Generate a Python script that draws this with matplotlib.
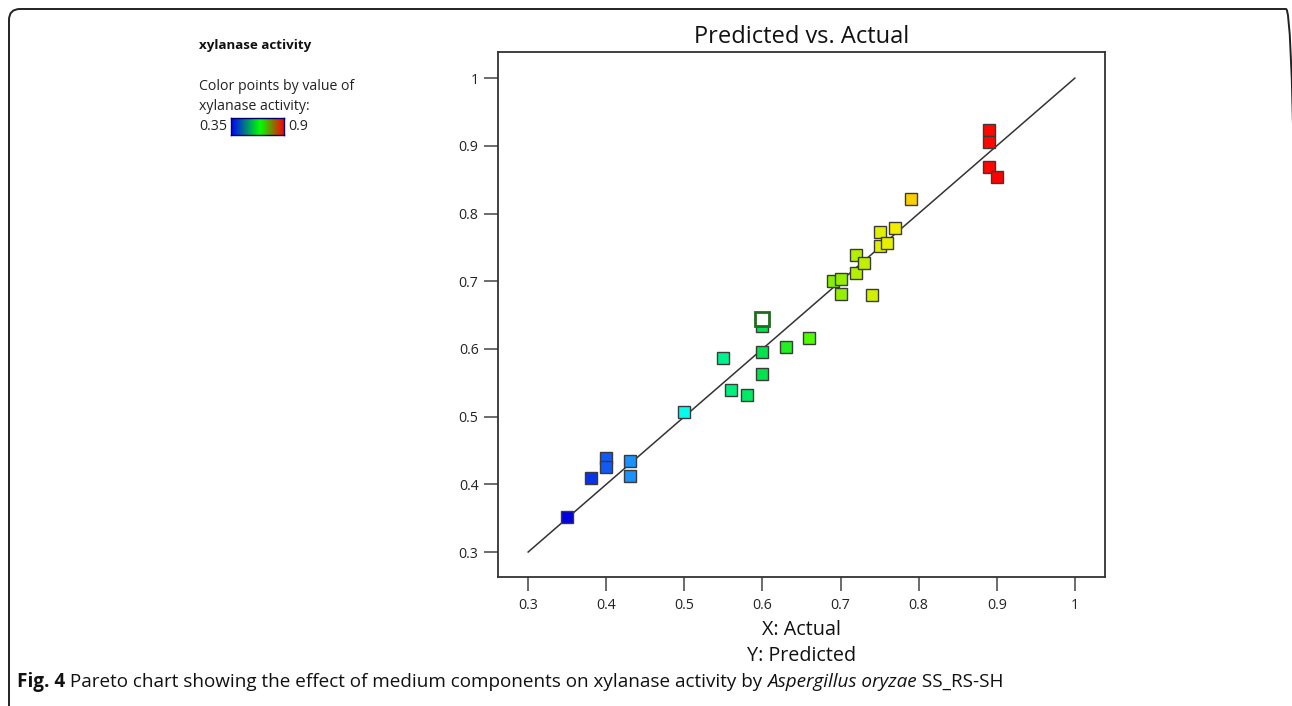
import numpy as np
import matplotlib
matplotlib.use("Agg")
import matplotlib.pyplot as plt
from matplotlib.colors import LinearSegmentedColormap, Normalize
from matplotlib.patches import FancyBboxPatch
from matplotlib.transforms import IdentityTransform

# Predicted vs. actual xylanase activity (Design-Expert style plot)

actual = [0.35, 0.38, 0.40, 0.40, 0.43, 0.43, 0.50, 0.55, 0.56, 0.58,
          0.60, 0.60, 0.60, 0.60, 0.63, 0.66, 0.69, 0.70, 0.70, 0.72,
          0.72, 0.73, 0.74, 0.75, 0.75, 0.76, 0.77, 0.79, 0.89, 0.89,
          0.89, 0.90]
predicted = [0.352, 0.410, 0.439, 0.425, 0.434, 0.413, 0.507, 0.587, 0.539, 0.532,
             0.563, 0.595, 0.634, 0.644, 0.603, 0.616, 0.700, 0.703, 0.681, 0.739,
             0.712, 0.727, 0.679, 0.773, 0.752, 0.756, 0.778, 0.822, 0.923, 0.905,
             0.869, 0.854]
highlighted = [13]   # the hollow square at 0.6

ticks = [0.3, 0.4, 0.5, 0.6, 0.7, 0.8, 0.9, 1.0]
tick_labels = ["0.3", "0.4", "0.5", "0.6", "0.7", "0.8", "0.9", "1"]
color_min, color_max = 0.35, 0.9

W, H = 1292, 706
fig = plt.figure(figsize=(W / 100, H / 100), dpi=100)
font = "Open Sans"

# point colours: blue -> cyan -> green -> yellow -> red
point_cmap = LinearSegmentedColormap.from_list("pts", [
    (0.00, "#0000e0"), (0.14, "#1a8cff"), (0.27, "#00ffee"),
    (0.38, "#00f080"), (0.47, "#00e040"), (0.55, "#40ff00"),
    (0.63, "#90f000"), (0.72, "#d8f000"), (0.76, "#f0f000"),
    (0.82, "#ffc000"), (0.92, "#ff2000"), (1.00, "#ff0000")])
bar_cmap = LinearSegmentedColormap.from_list("bar", [
    (0.0, "#0000ff"), (0.55, "#00ff00"), (1.0, "#ff0000")])
norm = Normalize(color_min, color_max)

ax = fig.add_axes([498 / W, 1 - 577 / H, (1105 - 498) / W, (577 - 52) / H])
ax.set_xlim(0.2614, 1.0386)
ax.set_ylim(0.2631, 1.0386)
ax.plot([0.3, 1.0], [0.3, 1.0], color="#333333", lw=1.1, zorder=2)

for i, (a, p) in enumerate(zip(actual, predicted)):
    if i in highlighted:
        ax.plot(a, p, "s", ms=9.5, mfc="white", mec="#1f6b1f", mew=2.0, zorder=4)
    else:
        ax.plot(a, p, "s", ms=8.6, mfc=point_cmap(norm(a)), mec="#3a3a3a",
                mew=1.0, zorder=3)

for sp in ax.spines.values():
    sp.set_color("#333333")
    sp.set_linewidth(1.3)
ax.set_xticks(ticks)
ax.set_xticklabels(tick_labels)
ax.set_yticks(ticks)
ax.set_yticklabels(tick_labels)
ax.tick_params(direction="out", length=10, width=1.1, color="#444444",
               labelsize=10.2, labelcolor="#222222")
ax.tick_params(axis="x", pad=5)
ax.tick_params(axis="y", pad=4)
for lab in ax.get_xticklabels() + ax.get_yticklabels():
    lab.set_fontfamily(font)

cx = (498 + 1105) / 2 / W
fig.text(cx, 1 - 37 / H, "Predicted vs. Actual", ha="center", va="center",
         fontsize=17, family=font, color="#111111")
fig.text(cx, 1 - 630 / H, "X: Actual", ha="center", va="center",
         fontsize=14.2, family=font, color="#111111")
fig.text(cx, 1 - 656 / H, "Y: Predicted", ha="center", va="center",
         fontsize=14.2, family=font, color="#111111")

# colour legend at top left
fig.text(199 / W, 1 - 46 / H, "xylanase activity", ha="left", va="center",
         fontsize=9.6, fontweight="bold", family=font, color="#111111")
fig.text(199 / W, 1 - 87 / H, "Color points by value of", ha="left", va="center",
         fontsize=10.2, family=font, color="#222222")
fig.text(199 / W, 1 - 107 / H, "xylanase activity:", ha="left", va="center",
         fontsize=10.2, family=font, color="#222222")
fig.text(199 / W, 1 - 127 / H, "0.35", ha="left", va="center",
         fontsize=10.2, family=font, color="#222222")
fig.text(288 / W, 1 - 127 / H, "0.9", ha="left", va="center",
         fontsize=10.2, family=font, color="#222222")
cax = fig.add_axes([231 / W, 1 - 135 / H, (284 - 231) / W, (135 - 118) / H])
cax.imshow(np.linspace(0, 1, 256)[None, :], aspect="auto", cmap=bar_cmap,
           extent=(0, 1, 0, 1))
cax.set_xticks([])
cax.set_yticks([])
for sp in cax.spines.values():
    sp.set_color("#000066")
    sp.set_linewidth(1.0)

# rounded frame around the figure, in pixels (right and bottom run off the image)
frame = FancyBboxPatch((9, -30), 1297 - 9, (H - 9) + 30,
                       boxstyle="round,pad=0,rounding_size=11",
                       transform=IdentityTransform(), fill=False,
                       edgecolor="#222222", lw=1.4)
fig.patches.append(frame)

# caption with bold / italic parts, placed piece by piece
renderer = fig.canvas.get_renderer()
parts = [("Fig. 4", "bold", "normal"),
         (" Pareto chart showing the effect of medium components on xylanase activity by ", "normal", "normal"),
         ("Aspergillus oryzae", "normal", "italic"),
         (" SS_RS-SH", "normal", "normal")]
cap_size = 11.5
texts = []
x = 17
for txt, weight, style in parts:
    t = fig.text(x / W, 1 - 682 / H, txt, ha="left", va="center", fontsize=cap_size,
                 family=font, fontweight=weight, fontstyle=style, color="#111111")
    texts.append(t)
    x += t.get_window_extent(renderer).width
# shrink/grow so that the caption ends where it does in the figure
scale = (1007 - 17) / (x - 17)
x = 17
for t in texts:
    t.set_fontsize(cap_size * scale)
    t.set_x(x / W)
    x += t.get_window_extent(renderer).width

fig.savefig("out.png", dpi=100)
